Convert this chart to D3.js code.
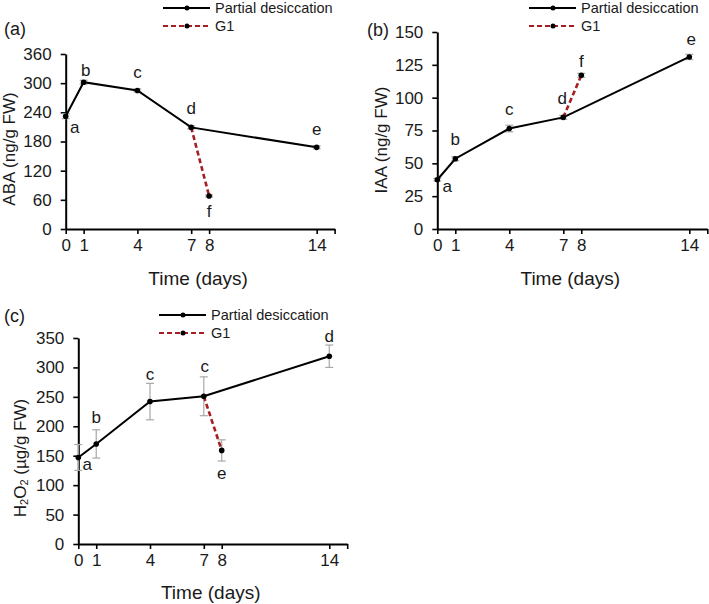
<!DOCTYPE html>
<html>
<head>
<meta charset="utf-8">
<script src="https://cdn.jsdelivr.net/npm/d3@7"></script>
<style>
  html, body { margin: 0; padding: 0; background: #fff; }
  svg { display: block; font-family: "Liberation Sans", Arial, sans-serif; }
</style>
</head>
<body>
<svg id="chart" width="709" height="604"></svg>
<script>
// ---------------- DATA ----------------
const days = [0, 1, 4, 7, 14];
const g1Days = [7, 8];
const xTickValues = [0, 1, 4, 7, 8, 14];

const seriesNames = ["Partial desiccation", "G1"];

// (a) ABA (ng/g FW)
const abaPD = [232, 302, 285, 209, 168];
const abaPDErr = [5, 4, 3, 3, 3];
const abaG1 = [209, 68];
const abaG1Err = [3, 2];
const abaLetters = ["a", "b", "c", "d", "e"];
const abaG1Letter = "f";
const abaTicks = [0, 60, 120, 180, 240, 300, 360];

// (b) IAA (ng/g FW)
const iaaPD = [37.5, 53.5, 76.5, 85, 131];
const iaaPDErr = [1, 1.5, 2.5, 1.5, 2];
const iaaG1 = [85, 117];
const iaaG1Err = [1.5, 1.5];
const iaaLetters = ["a", "b", "c", "d", "e"];
const iaaG1Letter = "f";
const iaaTicks = [0, 25, 50, 75, 100, 125, 150];

// (c) H2O2 (µg/g FW)
const h2o2PD = [147, 170, 242, 251, 319];
const h2o2PDErr = [22, 24, 31, 33, 19];
const h2o2G1 = [251, 159];
const h2o2G1Err = [33, 18];
const h2o2Letters = ["a", "b", "c", "c", "d"];
const h2o2G1Letter = "e";
const h2o2Ticks = [0, 50, 100, 150, 200, 250, 300, 350];

// ---------------- LAYOUT ----------------
const svg = d3.select("#chart");
const RED = "#a61e22";
const GREY = "#a8a8a8";

const panels = [
  {
    tag: "(a)", tagX: 4, tagY: 35,
    x0: 65.7, x1: 334.6, y0: 229, y1: 54, ymax: 360, ticks: abaTicks,
    pd: abaPD, pdErr: abaPDErr, g1: abaG1, g1Err: abaG1Err,
    letters: abaLetters, g1Letter: abaG1Letter,
    offs: [[9, 11], [2, -12], [0, -18], [0, -19], [0, -18]], g1Off: [0, 16],
    title: "ABA", titleX: 9, titleY: 149,
    legX: 163, legY: 8,
    xTitleY: 278
  },
  {
    tag: "(b)", tagX: 367, tagY: 36,
    x0: 437.3, x1: 707.3, y0: 229, y1: 32, ymax: 150, ticks: iaaTicks,
    pd: iaaPD, pdErr: iaaPDErr, g1: iaaG1, g1Err: iaaG1Err,
    letters: iaaLetters, g1Letter: iaaG1Letter,
    offs: [[10, 7], [0, -19], [0, -19], [-1, -19], [2, -17]], g1Off: [0, -14],
    title: "IAA", titleX: 381, titleY: 140,
    legX: 529, legY: 8,
    xTitleY: 278
  },
  {
    tag: "(c)", tagX: 4, tagY: 322,
    x0: 78.3, x1: 347.2, y0: 544, y1: 338, ymax: 350, ticks: h2o2Ticks,
    pd: h2o2PD, pdErr: h2o2PDErr, g1: h2o2G1, g1Err: h2o2G1Err,
    letters: h2o2Letters, g1Letter: h2o2G1Letter,
    offs: [[9, 7], [0, -26], [0, -27], [1, -30], [0, -20]], g1Off: [0, 23],
    title: "H2O2", titleX: 20, titleY: 458,
    legX: 159, legY: 315,
    xTitleY: 592
  }
];

panels.forEach(p => {
  const g = svg.append("g");
  const x = d3.scaleLinear().domain([0, 15]).range([p.x0, p.x1]);
  const y = d3.scaleLinear().domain([0, p.ymax]).range([p.y0, p.y1]);

  const xAxis = d3.axisBottom(x)
    .tickValues(xTickValues.concat([15]))
    .tickFormat(d => d === 15 ? "" : d)
    .tickSize(5).tickSizeOuter(0).tickPadding(5);
  const yAxis = d3.axisLeft(y)
    .tickValues(p.ticks).tickSize(5).tickSizeOuter(0).tickPadding(9);

  const gx = g.append("g").attr("transform", `translate(0,${p.y0})`).call(xAxis);
  const gy = g.append("g").attr("transform", `translate(${p.x0},0)`).call(yAxis);
  [gx, gy].forEach(a => {
    a.select(".domain").attr("stroke", "#000").attr("stroke-width", 2);
    a.selectAll(".tick line").attr("stroke", "#000").attr("stroke-width", 1.6);
    a.selectAll("text").attr("font-size", 17).attr("fill", "#1a1a1a")
      .attr("font-family", "'Liberation Sans', Arial, sans-serif");
  });

  const drawErr = (xs, vs, es, skipFirst) => {
    xs.forEach((d, i) => {
      if (skipFirst && i === 0) return;
      const cx = x(d), top = y(vs[i] + es[i]), bot = y(vs[i] - es[i]);
      g.append("line").attr("x1", cx).attr("x2", cx).attr("y1", top).attr("y2", bot)
        .attr("stroke", GREY).attr("stroke-width", 1.2);
      [top, bot].forEach(yy => g.append("line")
        .attr("x1", cx - 4).attr("x2", cx + 4).attr("y1", yy).attr("y2", yy)
        .attr("stroke", GREY).attr("stroke-width", 1.2));
    });
  };
  drawErr(days, p.pd, p.pdErr, false);
  drawErr(g1Days, p.g1, p.g1Err, true);

  const line = d3.line().x(d => x(d[0])).y(d => y(d[1]));
  g.append("path").datum(days.map((d, i) => [d, p.pd[i]]))
    .attr("d", line).attr("fill", "none").attr("stroke", "#000").attr("stroke-width", 2);
  g.append("path").datum(g1Days.map((d, i) => [d, p.g1[i]]))
    .attr("d", line).attr("fill", "none").attr("stroke", RED)
    .attr("stroke-width", 2.6).attr("stroke-dasharray", "5,3");

  days.forEach((d, i) => g.append("circle").attr("cx", x(d)).attr("cy", y(p.pd[i]))
    .attr("r", 2.8).attr("fill", "#000"));
  g.append("circle").attr("cx", x(g1Days[1])).attr("cy", y(p.g1[1])).attr("r", 2.8).attr("fill", "#000");

  days.forEach((d, i) => g.append("text")
    .attr("x", x(d) + p.offs[i][0]).attr("y", y(p.pd[i]) + p.offs[i][1])
    .attr("text-anchor", "middle").attr("dominant-baseline", "central")
    .attr("font-size", 17).attr("fill", "#1a1a1a").text(p.letters[i]));
  g.append("text")
    .attr("x", x(g1Days[1]) + p.g1Off[0]).attr("y", y(p.g1[1]) + p.g1Off[1])
    .attr("text-anchor", "middle").attr("dominant-baseline", "central")
    .attr("font-size", 17).attr("fill", "#1a1a1a").text(p.g1Letter);

  g.append("text").attr("x", p.tagX).attr("y", p.tagY)
    .attr("font-size", 18).attr("fill", "#1a1a1a").text(p.tag);

  const yt = g.append("text")
    .attr("transform", `translate(${p.titleX},${p.titleY}) rotate(-90)`)
    .attr("text-anchor", "middle").attr("dominant-baseline", "central")
    .attr("font-size", 17).attr("fill", "#1a1a1a");
  if (p.title === "H2O2") {
    yt.append("tspan").text("H");
    yt.append("tspan").attr("font-size", 11).attr("dy", 4).text("2");
    yt.append("tspan").attr("dy", -4).text("O");
    yt.append("tspan").attr("font-size", 11).attr("dy", 4).text("2");
    yt.append("tspan").attr("dy", -4).text(" (µg/g FW)");
  } else {
    yt.text(p.title + "  (ng/g FW)");
  }

  g.append("text").attr("x", (p.x0 + p.x1) / 2 - 2).attr("y", p.xTitleY)
    .attr("text-anchor", "middle").attr("dominant-baseline", "central")
    .attr("font-size", 19).attr("fill", "#1a1a1a").text("Time (days)");

  const lg = g.append("g");
  [0, 1].forEach(k => {
    const ly = p.legY + k * 18;
    lg.append("line").attr("x1", p.legX).attr("x2", p.legX + 47).attr("y1", ly).attr("y2", ly)
      .attr("stroke", k === 0 ? "#000" : RED).attr("stroke-width", 2)
      .attr("stroke-dasharray", k === 0 ? null : "5,3");
    lg.append("circle").attr("cx", p.legX + 24).attr("cy", ly).attr("r", 2.5).attr("fill", "#000");
    lg.append("text").attr("x", p.legX + 52).attr("y", ly).attr("dominant-baseline", "central")
      .attr("font-size", 14.5).attr("fill", "#1a1a1a").text(seriesNames[k]);
  });
});
</script>
</body>
</html>
